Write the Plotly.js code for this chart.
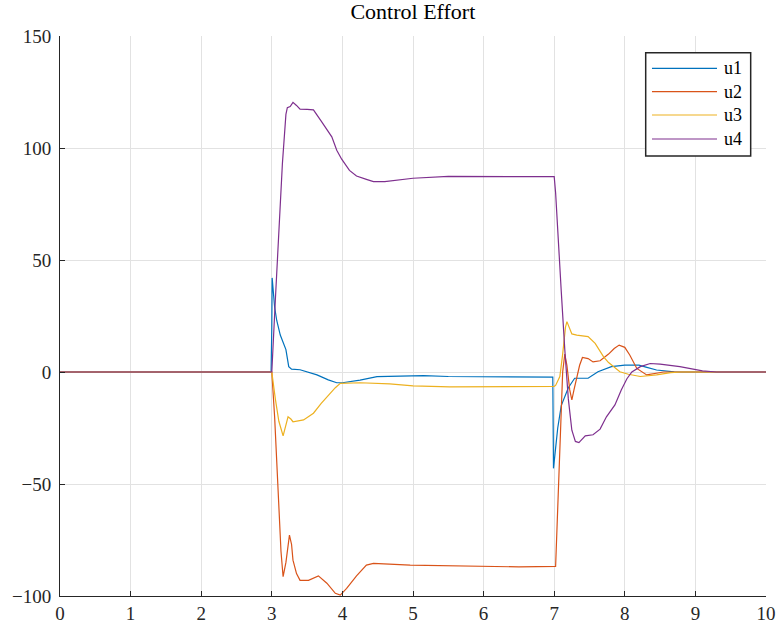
<!DOCTYPE html>
<html>
<head>
<meta charset="utf-8">
<script src="https://cdn.plot.ly/plotly-3.0.1.min.js"></script>
<style>
  html, body { margin: 0; padding: 0; background: #ffffff; }
  #plot { width: 779px; height: 626px; }
</style>
</head>
<body>
<div id="plot"></div>
<script>
// Control inputs u1..u4 over time (s)
const t1 = [0, 2.99, 3.0, 3.005, 3.04, 3.07, 3.12, 3.17, 3.2, 3.24, 3.28, 3.4, 3.5, 3.64, 3.8, 3.92, 4.0, 4.25, 4.49, 4.82, 5.15, 5.5, 6.0, 6.5, 6.98, 6.99, 7.05, 7.1, 7.2, 7.29, 7.48, 7.62, 7.81, 8.0, 8.2, 8.3, 8.45, 8.7, 9.0, 10];
const u1 = [0, 0, 20, 42, 29, 23, 16.5, 12, 10, 2.4, 1.3, 1.0, 0, -1.3, -3.5, -4.8, -4.8, -3.6, -2.1, -1.8, -1.6, -2.0, -2.2, -2.3, -2.3, -43, -25, -15, -7, -2.8, -2.8, 0.1, 2.4, 3.1, 3.1, 2.2, 0.9, 0.1, 0, 0];

const t2 = [0, 3.0, 3.04, 3.09, 3.13, 3.16, 3.2, 3.25, 3.28, 3.3, 3.35, 3.4, 3.52, 3.66, 3.78, 3.9, 3.97, 4.06, 4.2, 4.34, 4.44, 4.96, 5.52, 6.5, 7.02, 7.05, 7.08, 7.12, 7.15, 7.18, 7.22, 7.25, 7.28, 7.32, 7.36, 7.4, 7.48, 7.55, 7.65, 7.77, 7.85, 7.92, 8.0, 8.07, 8.17, 8.31, 8.45, 8.55, 10];
const u2 = [0, 0, -20, -51, -80, -91.4, -85, -72.8, -77, -84, -90, -93, -93, -91, -94.3, -98.8, -99.6, -96.6, -91, -86.2, -85.4, -86.2, -86.6, -87, -86.8, -60, -30, 0, 8, 3, -8, -12.5, -8, -2, 3, 6.5, 6, 4.5, 5, 8, 10.5, 12, 11, 7.6, 1.6, -1.3, -0.5, 0, 0];

const t3 = [0, 3.0, 3.05, 3.1, 3.16, 3.2, 3.23, 3.27, 3.3, 3.45, 3.59, 3.7, 3.78, 3.9, 3.97, 4.25, 4.67, 5.0, 5.52, 6.5, 7.0, 7.02, 7.08, 7.12, 7.16, 7.18, 7.22, 7.25, 7.32, 7.48, 7.58, 7.7, 7.77, 7.85, 7.93, 8.05, 8.22, 8.45, 8.65, 8.8, 10];
const u3 = [0, 0, -12, -22, -28.5, -24, -20, -21, -22.2, -21.4, -18.4, -14, -11, -7, -5.1, -4.8, -5.3, -6.2, -6.6, -6.5, -6.4, -6, -2, 8, 20, 22.5, 19, 17, 16.5, 15.8, 12.8, 6.8, 4.2, 2, 0.1, -1, -2, -1.3, -0.3, 0, 0];

const t4 = [0, 3.0, 3.05, 3.1, 3.15, 3.2, 3.22, 3.26, 3.3, 3.35, 3.4, 3.5, 3.59, 3.7, 3.78, 3.85, 3.92, 3.99, 4.1, 4.2, 4.34, 4.44, 4.6, 5.0, 5.5, 6.0, 7.0, 7.02, 7.06, 7.1, 7.15, 7.2, 7.25, 7.3, 7.35, 7.44, 7.55, 7.65, 7.74, 7.86, 7.95, 8.03, 8.1, 8.22, 8.36, 8.5, 8.78, 8.9, 9.1, 9.3, 10];
const u4 = [0, 0, 32, 65, 93, 115, 118, 118.5, 120.4, 119, 117.3, 117.2, 117, 112, 108, 105, 99, 95, 90, 87.5, 86, 85, 85, 86.5, 87.3, 87.3, 87.2, 80, 55, 36, 10, -12, -26, -31, -31.5, -28.5, -28, -25.5, -20, -14.7, -8, -3, 0, 2.4, 3.8, 3.5, 2.4, 1.6, 0.5, 0, 0];

const names = ['u1', 'u2', 'u3', 'u4'];
const colors = ['#0072BD', '#D95319', '#EDB120', '#7E2F8E'];
const xs = [t1, t2, t3, t4];
const ys = [u1, u2, u3, u4];

const serif = 'Liberation Serif, Times New Roman, serif';
const ink = '#262626';

const traces = names.map((n, i) => ({
  x: xs[i], y: ys[i], name: n,
  type: 'scatter', mode: 'lines',
  line: { color: colors[i], width: 1.2 },
  showlegend: false
}));

// Legend box in the upper right: long sample lines, labels to their right
const legBox = { x0: 0.8296, x1: 0.9783, y0: 0.7857, y1: 0.9702 };
const legRows = [0.9423, 0.9006, 0.8589, 0.8161];
const legLineX = [0.8385, 0.9306];
const legTextX = 0.9377;

const shapes = [{
  type: 'rect', xref: 'paper', yref: 'paper',
  x0: legBox.x0, x1: legBox.x1, y0: legBox.y0, y1: legBox.y1,
  line: { color: ink, width: 1.5 }, fillcolor: '#ffffff', layer: 'above'
}];
const annotations = [];
names.forEach((n, i) => {
  shapes.push({
    type: 'line', xref: 'paper', yref: 'paper',
    x0: legLineX[0], x1: legLineX[1], y0: legRows[i], y1: legRows[i],
    line: { color: colors[i], width: 1.2 }, layer: 'above'
  });
  annotations.push({
    xref: 'paper', yref: 'paper', x: legTextX, y: legRows[i],
    xanchor: 'left', yanchor: 'middle', showarrow: false, text: n,
    font: { family: serif, size: 18, color: '#000000' }
  });
});

const axisCommon = {
  showgrid: true, gridcolor: '#e2e2e2', gridwidth: 1,
  showline: true, linecolor: ink, linewidth: 1,
  ticks: 'inside', ticklen: 5, tickcolor: ink,
  zeroline: false, mirror: false,
  tickfont: { family: serif, size: 19, color: ink }
};

const layout = {
  width: 779, height: 626,
  margin: { l: 60, r: 13, t: 36, b: 30 },
  paper_bgcolor: '#ffffff', plot_bgcolor: '#ffffff',
  title: { text: 'Control Effort', x: 0.53, xanchor: 'center', y: 0.995, yanchor: 'top',
           font: { family: serif, size: 22, color: '#000000' } },
  xaxis: Object.assign({}, axisCommon, { range: [0, 10], dtick: 1, tick0: 0 }),
  yaxis: Object.assign({}, axisCommon, { range: [-100, 150], dtick: 50, tick0: -100, ticklabelstandoff: 4 }),
  showlegend: false,
  shapes: shapes,
  annotations: annotations
};

Plotly.newPlot('plot', traces, layout, { displayModeBar: false, staticPlot: true });
</script>
</body>
</html>
